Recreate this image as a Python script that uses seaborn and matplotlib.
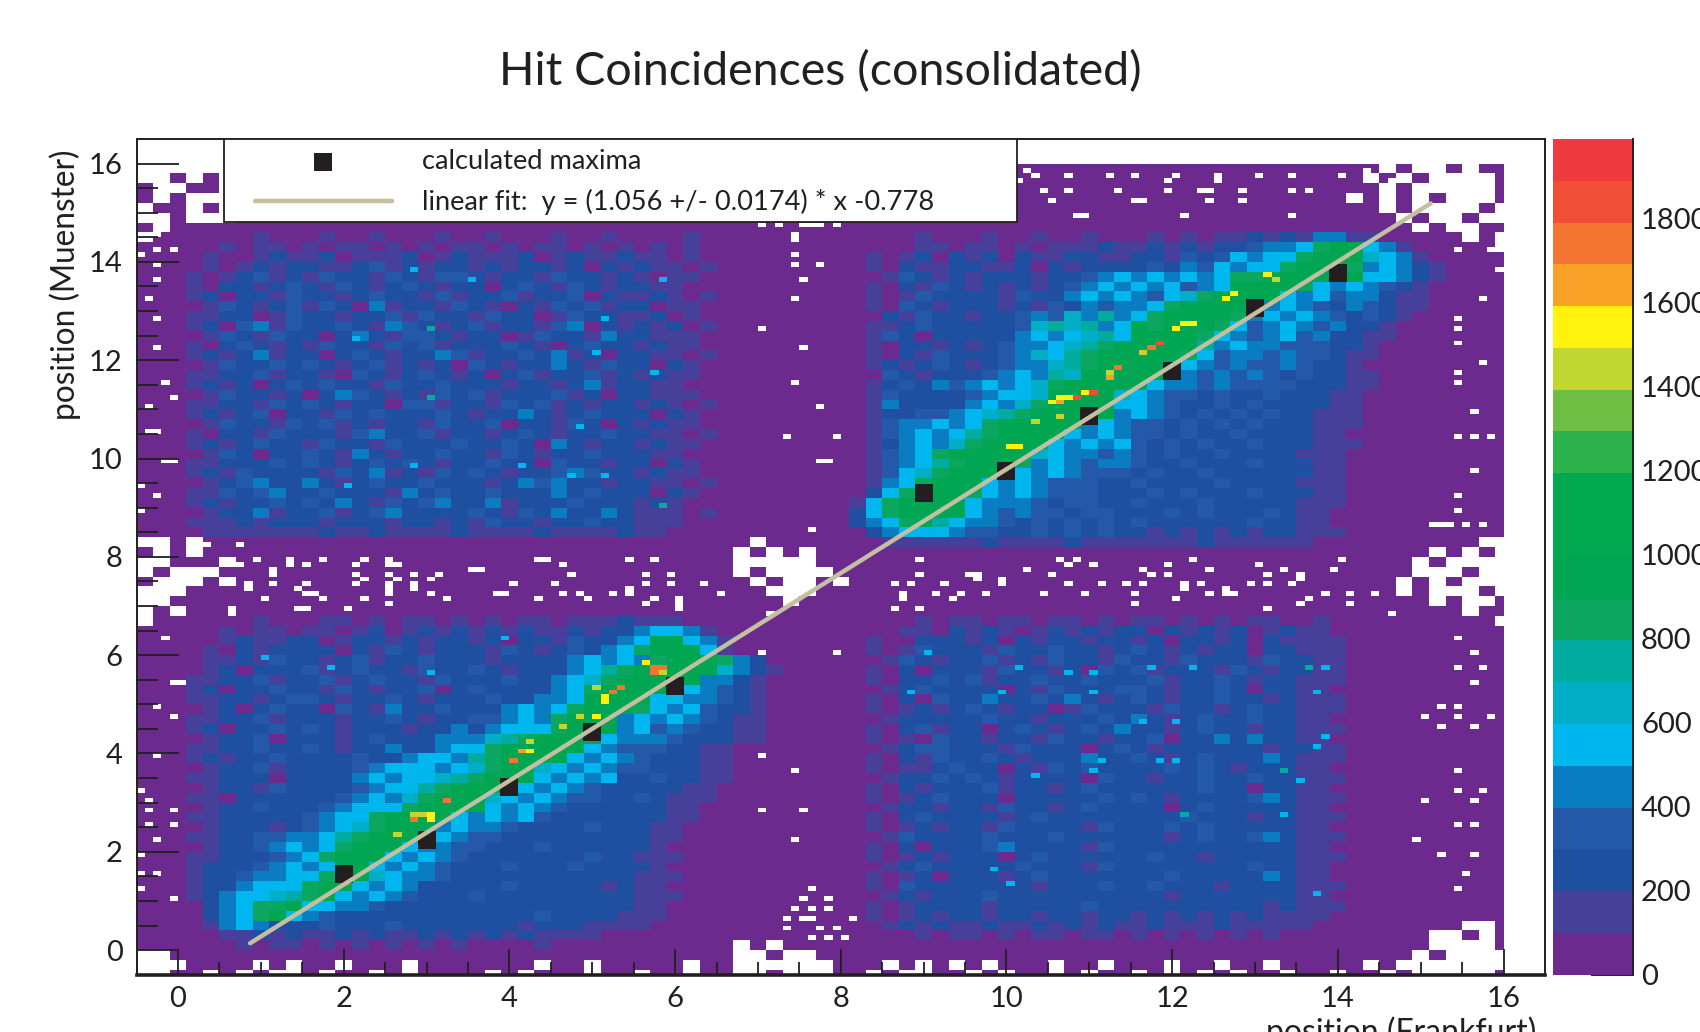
import numpy as np
import seaborn as sns
import matplotlib
matplotlib.use("Agg")
import matplotlib.pyplot as plt
from matplotlib.colors import ListedColormap
from matplotlib.patches import Rectangle

sns.set_style("white")
plt.rcParams["font.family"] = ["Lato", "DejaVu Sans"]

# bins, 0.2 wide, top row first. digit = count / 100, '.' = empty bin
hit_rows = [
"......0.00 0000000000 0000000000 0000000000 0000000000 0000000000 0000000000 00000.0..0 .00",
"..0.0.0000 0000000000 0000000000 0000000000 0000000000 0000000000 0000000000 0000.0.0.. ..0",
"0..00.0000 0000000000 0000000000 0000000000 0000000000 0000000000 0000000000 00000.0... ..0",
"0.0...0000 0000000000 0000000000 0000000000 0000000000 0000000000 0000000000 000.0.0.0. ..0",
".00.0.0000 0000000000 0000000000 0000000000 0000000000 0000000000 0000000000 00000.0... .0.",
"..0...0000 0000000000 0000000000 0000000000 0000000000 0000000000 0000000000 000000.0.. 0..",
"0.00000000 0000000000 0000000000 0000000000 0000000000 0000000000 0000000000 0000000.0. .00",
".000000100 0100100010 0100010010 0001000000 0000000100 0100100100 0101011212 1441100000 .0.",
"0000010110 1011010101 1010110101 0101000000 0000000110 1101011121 1212122344 5899541000 00.",
"0000100121 1201112012 1112012112 1101000000 0000101202 1202112211 2213235455 8999654100 000",
"0000101212 2112312122 1212212021 2110100000 0000102112 2112021222 2324354558 9998454210 000",
"0001012312 1322132133 2122132212 1011000000 0000013212 1222122345 4545458899 9989554210 000",
"0001022123 2132123212 2023213212 2110000000 0000102132 1212123454 5453459999 8545432100 000",
"0001202213 2212322131 2231223021 1210100000 0000101322 2213224545 4356899995 4534421100 000",
"0000132123 1320412213 2102132312 2011000000 0000103212 2212132434 4589999545 4324321100 000",
"0001122013 2212231322 1322013221 1201000000 0000021322 1223436474 5899998454 5432321000 000",
"0001203413 2232143212 3122134021 2120100000 0000112322 2223676745 9899985345 4342210000 000",
"0000132132 2024213321 2201322142 2111000000 0000132022 2224545675 9999854345 3422110000 000",
"0001023212 1322132312 2232102322 1211000000 0000102212 1234456789 9999745443 3322100000 000",
"0001212412 2023212243 1223241202 2110100000 0000102132 2234657899 9998534434 3321100000 000",
"0000132232 3212312120 3212242132 2021000000 0000121232 1234467899 9985434334 3221000000 000",
"0001122312 2103212321 2023122312 1211000000 0000032122 2345476999 9954343432 3221100000 000",
"0001212023 2322132232 2212212412 2110000000 0000123243 4545689999 9544343333 2221100000 000",
"0000132212 0243212132 3122231202 2111000000 0000132222 3455699996 5433232232 2211000000 000",
"0001122132 3212203312 2132312122 1210100000 0000142222 4546899995 5432232322 2211000000 000",
"0001212302 2132322232 1224212322 2021000000 0000122334 5678999994 5432323232 2111000000 000",
"0000132213 2312122132 2302213202 1211000000 0000134454 5899999454 3323232322 2111000000 000",
"0001022132 2213422312 2123212232 2110100000 0000134545 7899995454 3323223222 2110000000 000",
"0001212322 1322132223 2232042122 1211000000 0000124546 8999954545 3232322322 2111000000 000",
"0000132022 3214212232 2132122322 2110000000 0000134589 9999654434 3232232222 1110000000 000",
"0001122232 3212323212 2322032212 2021000000 0000134578 9998454344 3223222322 2110000000 000",
"0001213222 2132412132 3212234322 1211000000 0000135689 9995454333 2322322222 2110000000 000",
"0000123422 4212322322 2124342212 2110100000 0000145899 9545433322 3222232222 1110000000 000",
"0001132342 2322214232 2322242322 2021000000 0000258999 8545433322 2323222322 2110000000 000",
"0001212232 3242132342 2412223222 1210000000 0001589999 5444323322 3222322222 1110000000 000",
"0000122412 2312342222 3213242242 1110100000 0002589999 5434332332 2232322232 1100000000 000",
"0001112122 2122212212 1322122322 1110000000 0002458975 4432323232 3222222322 1100000000 000",
"0000111111 1211211112 1111211112 1100000000 0000245554 3322323232 2121212122 1110000000 000",
"..0.000000 0000000000 0000000000 0000000.00 0000011111 1211112111 1111211111 1000000000 0..",
"0.0.000000 0000000000 0000000000 000000.0.0 .000000000 0000000000 0000000000 00000000.0 .0.",
"..000.0000 0000000000 0000000000 000000.... .000000000 0000000000 0000000000 0000000.0. ...",
".0...00000 0000000000 0000000000 000000.0.. ..00000000 0000000000 0000000000 0000000... 0..",
"0...0.0000 0000000000 0000000000 0000000.0. .0.0000000 0000000000 0000000000 000000.0.0 ...",
"...0000000 0000000000 0000000000 00000000.. .000000000 0000000000 0000000000 000000.0.. .0.",
"..00000000 0000000000 0000000000 000000000. 0000000000 0000000000 0000000000 00000000.0 ..0",
".0.0000000 0000000000 0000000000 0000000000 0000000000 0000000000 0000000000 0000000000 .00",
".000000100 0110101101 0101101112 1110000000 0000000101 1011011010 1101010110 0100000000 00.",
"0000010110 1101201212 1212112122 4554100000 0000001102 1210121212 2021212012 1100000000 000",
"0000012112 2012212122 1202213224 5995410000 0000100222 1202122122 1202212021 1110000000 000",
"0000102122 2202132122 2132123245 8999510000 0000101322 2132232212 3212122022 1110000000 000",
"0000112132 2123122322 2122224545 4899984200 0000013212 2312132213 2213222132 2110000000 000",
"0000120222 3123221322 3212224578 9999964210 0000102022 2132212032 3122213212 2110000000 000",
"0001122312 2312322132 2232245689 9999442100 0000102232 3122322322 2312232122 1110000000 000",
"0001202232 2132122302 3222245899 9945432100 0000012322 2202132223 3212232022 1100000000 000",
"0001122123 3212232122 2322445999 9554432100 0000102032 2422324212 3212232212 1110000000 000",
"0000120232 2032142232 2245458999 8545322100 0000101212 3212201322 2132212322 1110000000 000",
"0001122312 2212232122 3345489994 5454321100 0000012222 2322122232 4212322322 1100000000 000",
"0001202232 3212221224 2455589994 5343221100 0000102312 2023212324 2212322122 1110000000 000",
"0000122302 2212322244 4678999954 4432221100 0000101032 2122132212 2302242422 1100000000 000",
"0001122322 3212242245 5899999543 3322110000 0000012332 2213222023 2122222212 2110000000 000",
"0001212232 2223224554 7899995454 3222110000 0000102132 2321222422 3212322242 1110000000 000",
"0000122312 2223455545 6899654543 3222110000 0000101123 2202132322 2232321222 1100000000 000",
"0001122202 2224545567 8999545452 2322110000 0000012232 3212222032 2122322322 1110000000 000",
"0000122132 2223455789 9945454322 2221100000 0000102122 2312212322 2222322022 1100000000 000",
"0001102222 2234546899 9654543322 3211100000 0000101232 2202222232 3212222342 1110000000 000",
"0000122322 2345558999 9545432222 2211000000 0000012212 2132212322 2202322222 1100000000 000",
"0001122222 3455899995 4545322222 2211000000 0000102322 2212322222 2223222122 1110000000 000",
"0000122212 3456899945 4432222322 2110000000 0000101212 2132222132 2232322222 1100000000 000",
"0001122334 4578999954 3322222222 2110000000 0000013222 2322232222 2212322342 1110000000 000",
"0000122345 4589995443 3222322222 2100000000 0000102022 2342222132 2222222222 1100000000 000",
"0001122234 5899954543 2222222322 1110000000 0000101212 2202322222 2322122222 1110000000 000",
"0001222345 4599545432 2232223222 2100000000 0000012322 2223222132 2222222322 1100000000 000",
"0001223445 5899654432 2222222222 1110000000 0000101202 2212322222 2232222242 1100000000 000",
"0001224555 8995454222 2232222212 1100000000 0000103222 2222122232 2322212222 1110000000 000",
"0001245567 8954543222 3222222222 1110000000 0000012122 2322222222 2212222222 1100000000 000",
"0000245889 5544322222 2222222222 1100000000 0000101222 2122222322 2222222212 1110000000 000",
"0000245895 4322222222 2222322221 1100000000 0000101212 2122122122 1212121211 1100000000 000",
"0000145422 2322232222 2221222111 1000000000 0000012121 1211212121 1211121111 1000000000 ..0",
"0000011212 1121211212 1212111100 0000000000 0000000101 1010110110 1010101010 00000000.. 0.0",
"0000001011 0101010101 0000100000 000000.0.0 0000000000 0000000000 0000000000 00000000.. ..0",
"..00000000 0000000000 0000000000 000000..0. .000000000 0000000000 0000000000 0000000.0. ...",
"...0000.0. 00.000.000 0000.00.00 000.00.... ..000.0.0. 0.000.00.0 00.00.00.0 0000.0.... ...",
"..00.0.0.. 0.00.0.000 0.0.000.00 .00.00..0. ..00.0..00 .0.00.0.00 .0.0.0.00. 00.00.0... ..0",
]

# single bins that stand out, 0.1 wide: bin centre x, y and count
hot_x = [13.15, 13.25, 12.75, 12.65, 12.25, 12.15, 12.05, 11.85, 11.75, 11.65, 11.35, 11.25, 11.25,
         11.05, 10.95, 10.85, 10.75, 10.65, 10.65, 10.55, 10.65, 10.35, 10.15, 10.05,
         5.75, 5.85, 5.75, 5.85, 5.65, 5.35, 5.25, 5.15, 5.15, 5.05, 5.05, 4.85, 4.65,
         4.25, 4.15, 4.25, 4.05, 3.25, 3.05, 2.95, 2.85, 2.85, 3.05, 2.65]
hot_y = [13.75, 13.65, 13.35, 13.25, 12.75, 12.75, 12.65, 12.35, 12.25, 12.15, 11.85, 11.75, 11.65,
         11.35, 11.35, 11.25, 11.25, 11.25, 11.15, 11.15, 10.85, 10.75, 10.25, 10.25,
         5.75, 5.75, 5.65, 5.65, 5.85, 5.35, 5.25, 5.15, 5.05, 5.35, 4.75, 4.75, 4.55,
         4.05, 4.05, 4.25, 3.85, 3.05, 2.75, 2.75, 2.75, 2.65, 2.65, 2.35]
hot_n = [1550, 1450, 1550, 1550, 1550, 1550, 1550, 1850, 1750, 1450, 1750, 1450, 1650,
         1850, 1550, 1850, 1550, 1550, 1650, 1550, 1450, 1450, 1550, 1550,
         1750, 1750, 1750, 1450, 1550, 1750, 1750, 1550, 1550, 1450, 1550, 1450, 1450,
         1550, 1650, 1450, 1750, 1750, 1550, 1450, 1450, 1750, 1550, 1450]

# isolated bright bins in the flat blue parts
bright_x = [2.82, 3.53, 5.83, 2.14, 3.03, 5.13, 5.03, 5.73, 3.03, 4.84, 2.84, 4.13, 4.73, 5.14, 2.04, 5.83,
            9.03, 10.14, 10.72, 11.03, 11.74, 12.23, 13.63, 13.83, 8.83, 9.94, 11.03, 13.73, 11.64, 12.03,
            13.83, 13.73, 11.83, 12.03, 11.13, 11.03, 10.33, 13.34, 13.52, 12.13, 13.33, 9.84, 10.04, 13.73,
            1.06, 1.84, 3.02, 3.93]
bright_y = [13.84, 13.65, 13.65, 12.44, 12.65, 12.84, 12.14, 11.75, 11.25, 10.66, 9.83, 9.83, 9.64, 9.64, 9.44, 9.05,
            6.05, 5.75, 5.65, 5.7, 5.75, 5.75, 5.75, 5.75, 5.24, 5.24, 5.24, 5.24, 4.7, 4.65,
            4.34, 4.14, 3.84, 3.84, 3.84, 3.63, 3.54, 3.65, 3.44, 2.74, 2.74, 1.64, 1.35, 1.15,
            5.95, 5.75, 5.65, 6.34]
bright_n = [550, 550, 550, 550, 750, 550, 550, 550, 750, 550, 550, 550, 550, 550, 550, 750,
            550, 550, 550, 550, 550, 550, 750, 550, 550, 550, 550, 550, 550, 550,
            550, 550, 550, 550, 550, 550, 550, 750, 550, 750, 550, 550, 550, 550,
            550, 550, 550, 550]

# empty bins (0.1 wide) in the sparse bands: one y with its x values
empty_y = [15.87, 15.73, 15.63, 15.43, 15.26, 14.96, 14.75, 14.55, 14.45, 14.25, 14.15, 13.96, 13.85, 13.65,
           13.25, 12.85, 12.65, 12.35, 12.26, 11.95, 11.75, 11.55, 11.25, 11.05, 10.95, 10.6, 10.45, 9.97,
           9.76, 9.45, 9.25, 8.95, 8.7, 8.55, 8.27,
           7.96, 7.85, 7.75, 7.65, 7.55, 7.45, 7.35, 7.25, 7.15, 7.05, 6.95, 6.85,
           6.36, 6.05, 5.75, 5.45, 4.97, 4.75, 4.55, 3.96, 3.65, 3.25, 3.05, 2.85, 2.55, 2.25, 1.95, 1.55, 1.25,
           1.05, 0.85, 0.65, 0.45, 0.25]
empty_x = [[10.2, 14.3],
           [10.33, 10.79, 11.25, 11.54, 12.03, 12.55, 13.04, 13.44, 14.02],
           [10.13, 11.93, 12.55, 14.6],
           [10.46, 10.76, 11.35, 11.93, 12.36, 12.46, 12.85, 13.44, 13.67],
           [10.53, 11.5, 11.6, 12.42, 12.85, 14.5],
           [10.85, 10.98, 12.13, 13.44],
           [7.04, 7.23, 7.5, 7.6, 7.7, 7.92],
           [7.43, -0.3],
           [7.43, -0.35],
           [15.45, 15.85, -0.25, -0.05],
           [7.43, -0.4],
           [7.43, 7.73, -0.25],
           [15.95],
           [7.53, -0.3],
           [7.43, 15.7, -0.35],
           [15.4, -0.25],
           [15.4, 7.0],
           [15.4],
           [7.53, -0.25],
           [15.7],
           [15.4],
           [7.43, 15.4, -0.15],
           [-0.05],
           [7.73, -0.35],
           [15.6],
           [-0.35, -0.25],
           [7.33, 7.92, 15.4, 15.6, 15.85],
           [7.73, 7.83, -0.2, -0.05],
           [15.6],
           [-0.4],
           [15.4, -0.25],
           [-0.4, 15.4],
           [15.1, 15.2, 15.3, 15.7, 15.5],
           [7.63],
           [0.14, 0.34, 0.76],
           [0.67, 0.93, 1.35, 1.7, 2.24, 2.56, 4.3, 4.4, 5.4, 5.7, 8.96, 10.63, 10.82, 12.23, 14.02],
           [0.73, 1.35, 1.55, 2.14, 2.5, 2.66, 4.65, 10.76, 11.05, 11.93, 13.04],
           [1.15, 3.67, 3.55, 10.23, 11.64, 12.42, 13.34, 13.93],
           [1.15, 2.14, 2.53, 2.85, 3.15, 4.7, 5.63, 5.96, 8.96, 9.5, 9.65, 10.53, 11.93, 11.74, 13.14, 13.53],
           [2.24, 2.64, 3.05, 9.61, 9.94, 13.53],
           [0.86, 1.15, 1.55, 2.17, 2.53, 2.85, 4.03, 4.52, 5.63, 5.93, 6.35, 8.63, 8.83, 9.25, 9.94, 10.72, 11.15,
            11.44, 11.64, 12.1, 12.36, 12.95, 13.14, 13.44],
           [0.8, 1.45, 2.53, 2.85, 5.45, 12.13, 12.62],
           [1.55, 1.65, 2.56, 3.05, 3.85, 3.95, 4.65, 4.85, 5.25, 5.45, 6.55, 8.76, 9.12, 9.45, 9.74, 10.43, 10.95,
            11.54, 12.42, 12.6, 12.75, 13.83, 14.12, 14.45],
           [1.05, 1.75, 2.24, 3.25, 4.33, 4.95, 5.73, 6.03, 8.76, 9.35, 12.03, 13.64],
           [2.56, 5.63, 6.03, 11.54, 13.53, 14.12],
           [0.67, 1.45, 1.55, 2.04, 6.03, 8.63, 8.96, 13.14],
           [0.67, 7.1, 14.6],
           [-0.15, 15.4],
           [7.0, 7.9, 15.6],
           [15.4, 15.75],
           [-0.1, 0.0, 15.6],
           [-0.25, 15.2, 15.4],
           [-0.05, 15.0, 15.4, 15.85],
           [15.2, 15.6],
           [-0.25, 7.0],
           [7.45, 15.4],
           [-0.4, 15.4, 15.7],
           [-0.35, 15.05, 15.65],
           [-0.35, -0.05, 7.0, 7.5],
           [-0.35, -0.05, 15.4, 15.6],
           [-0.25, 14.95, 7.4],
           [-0.4, 15.2, 15.6],
           [-0.4, -0.25, 15.55],
           [-0.4, 7.6, 15.4],
           [-0.05, 7.5, 7.8],
           [7.4, 7.6, 7.8],
           [7.3, 7.5, 7.6, 8.1],
           [7.3, 7.7, 7.9],
           [7.6, 7.8, 8.0]]

maxima_x = [2, 3, 4, 5, 6, 9, 10, 11, 12, 13, 14]
maxima_y = [1.54, 2.24, 3.32, 4.43, 5.38, 9.29, 9.75, 10.86, 11.78, 13.07, 13.78]
fit_x = [0.87, 15.12]
fit_y = [0.14, 15.19]

level_colors = ["#6C2A8E", "#46409A", "#1F4FA1", "#2458A8", "#0A7CC2", "#00B6EE", "#00AEC8", "#00AC9E",
                "#0BA65F", "#00A651", "#00A94F", "#00A94F", "#2EB24B", "#6FBE44", "#BFD730", "#FFF20D",
                "#F9A026", "#F47530", "#F04E37", "#EF3B3E"]
cbar_ticks = [0, 200, 400, 600, 800, 1000, 1200, 1400, 1600, 1800]

coarse = np.array([[np.nan if c == "." else (int(c) + 0.5) * 99.5 for c in r.replace(" ", "")] for r in hit_rows])
grid = np.repeat(np.repeat(coarse, 2, axis=0), 2, axis=1)[:165, :165]
for x, y, n in zip(bright_x + hot_x, bright_y + hot_y, bright_n + hot_n):
    grid[int((16 - y) * 10), int((x + 0.5) * 10)] = n
for y, xs in zip(empty_y, empty_x):
    for x in xs:
        grid[int((16 - y) * 10), int((x + 0.5) * 10)] = np.nan

W, H = 1700, 1032
fig = plt.figure(figsize=(17, 10.32), dpi=100)
rect = [136.6 / W, (H - 974.7) / H, (1545 - 136.6) / W, (974.7 - 139) / H]
ax_map = fig.add_axes(rect)
cax = fig.add_axes([1553 / W, (H - 974.7) / H, (1632.7 - 1553) / W, (974.7 - 139) / H])

sns.heatmap(grid, ax=ax_map, cbar_ax=cax, cmap=ListedColormap(level_colors), vmin=0, vmax=1990,
            xticklabels=False, yticklabels=False, cbar_kws={"ticks": cbar_ticks})
ax_map.set_xlim(0, 170)
ax_map.set_ylim(165, -5)
ax_map.set_axis_off()

ax = fig.add_axes(rect)
ax.patch.set_alpha(0)
sns.scatterplot(x=maxima_x, y=maxima_y, ax=ax, marker="s", s=150, color="#231F20", linewidth=0,
                label="calculated maxima", zorder=3)
sns.lineplot(x=fit_x, y=fit_y, ax=ax, color="#C4BFA0", linewidth=3.2, errorbar=None, zorder=4,
             label="linear fit:  y = (1.056 +/- 0.0174) * x -0.778")
ax.set_xlim(-0.5, 16.5)
ax.set_ylim(-0.5, 16.5)
ax.set_xticks(range(0, 17, 2))
ax.set_yticks(range(0, 17, 2))
ax.set_xticks(np.arange(-0.5, 16.1, 0.5), minor=True)
ax.set_yticks(np.arange(-0.5, 16.1, 0.5), minor=True)
ax.tick_params(axis="x", which="major", direction="in", length=18.7, width=1.3, color="#231F20",
               labelsize=21, pad=8, labelcolor="#231F20", bottom=True)
ax.tick_params(axis="x", which="minor", direction="in", length=9.4, width=1.3, color="#231F20", bottom=True)
ax.tick_params(axis="y", which="major", direction="in", length=30, width=1.3, color="#231F20",
               labelsize=21, pad=10, labelcolor="#231F20", left=True)
ax.tick_params(axis="y", which="minor", direction="in", length=14.8, width=1.3, color="#231F20", left=True)
for side, spine in ax.spines.items():
    spine.set_visible(True)
    spine.set_color("#231F20")
    spine.set_linewidth(2.6 if side == "bottom" else 1.4)

# legend box is wider than its content, so the frame is its own patch
box_x0 = (224.4 - 136.6) / (1545 - 136.6)
box_w = (1017 - 224.4) / (1545 - 136.6)
box_h = (222 - 139) / (974.7 - 139)
ax.add_patch(Rectangle((box_x0, 1 - box_h), box_w, box_h, transform=ax.transAxes, facecolor="white",
                       edgecolor="#231F20", linewidth=1.3, zorder=9))
leg = ax.legend(loc="upper left", bbox_to_anchor=((255 - 136.6) / (1545 - 136.6), 1 - 10 / (974.7 - 139)),
                frameon=False, fontsize=19.6, handlelength=5.03, handletextpad=1.1, borderpad=0,
                labelspacing=0.55, borderaxespad=0, labelcolor="#231F20")
leg.set_zorder(10)

cbar = ax_map.collections[0].colorbar
cbar.outline.set_visible(False)
cax.spines["right"].set_visible(True)
cax.spines["right"].set_color("#231F20")
cax.spines["right"].set_linewidth(1.4)
cax.tick_params(axis="y", direction="in", length=30, width=1.4, color="#231F20", labelsize=21, pad=6,
                labelcolor="#231F20", right=True)

fig.text(820 / W, 1 - 72 / H, "Hit Coincidences (consolidated)", ha="center", va="center", fontsize=33.5, color="#231F20")
fig.text(65 / W, 1 - 285 / H, "position (Muenster)", ha="center", va="center", rotation=90, fontsize=22.7, color="#231F20")
fig.text(1401 / W, 1 - 1032 / H, "position (Frankfurt)", ha="center", va="center", fontsize=23, color="#231F20")

fig.savefig("out.png", dpi=100)
